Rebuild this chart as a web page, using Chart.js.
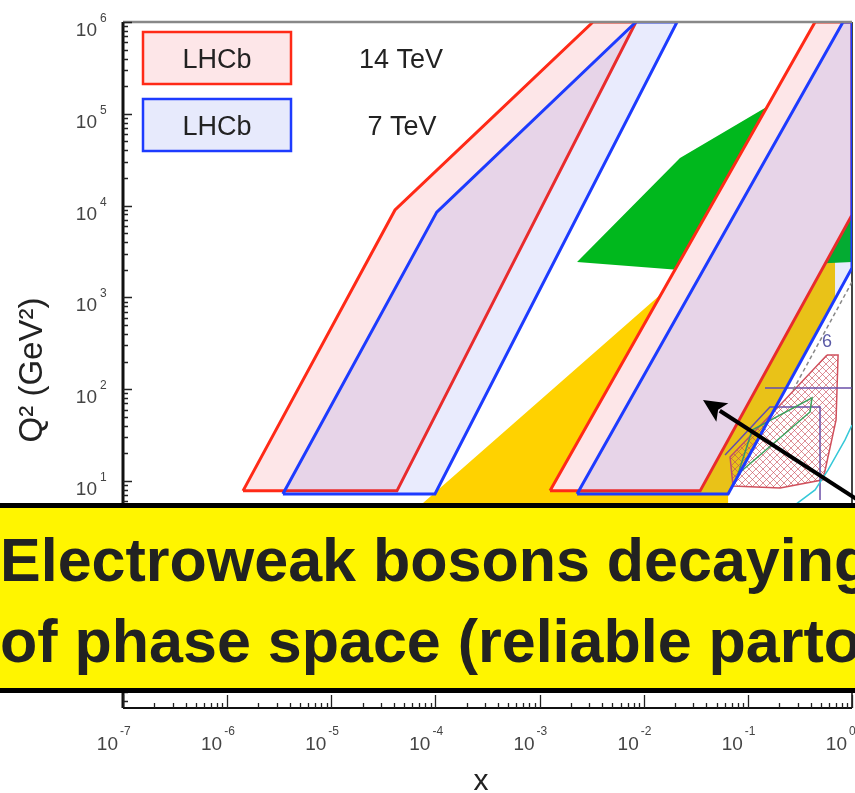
<!DOCTYPE html>
<html>
<head>
<meta charset="utf-8">
<script src="https://cdn.jsdelivr.net/npm/chart.js@4.4.1/dist/chart.umd.min.js"></script>
<style>
  html, body { margin: 0; padding: 0; background: #fff; overflow: hidden; }
  #wrap { position: relative; width: 855px; height: 793px; overflow: hidden; }
  #banner {
    position: absolute; left: -6px; top: 503px; width: 930px; height: 190px;
    box-sizing: border-box; background: #fff500; border: 5px solid #000;
    font: bold 61px "Liberation Sans", Arial, sans-serif; color: #222; white-space: nowrap;
  }
  #banner div { position: absolute; left: 1px; line-height: 61px; }
</style>
</head>
<body>
<div id="wrap">
  <canvas id="kinChart" width="855" height="793"></canvas>
  <div id="banner">
    <div style="top: 22px">Electroweak bosons decaying</div>
    <div style="top: 103px">of phase space (reliable parton</div>
  </div>
</div>
<script>
// x range and Q2 range of the plot
const xRange = [1e-7, 1];
const q2Range = [0.0336, 1e6];
const xDecades = [-7, -6, -5, -4, -3, -2, -1, 0];
const q2Decades = [-1, 0, 1, 2, 3, 4, 5, 6];

// LHCb acceptance, 14 TeV and 7 TeV (low-x and high-x bands)
const lhcb14LowX = [1.42e-6, 4.09e-5, 3.26e-3, 8.43e-3, 4.27e-5];
const lhcb14LowQ2 = [7.8, 8950, 1e6, 1e6, 7.8];
const lhcb7LowX = [3.43e-6, 1.03e-4, 8.43e-3, 2.09e-2, 9.9e-5];
const lhcb7LowQ2 = [7.2, 8500, 1e6, 1e6, 7.2];
const lhcb14HighX = [1.26e-3, 0.442, 1, 1, 0.0348];
const lhcb14HighQ2 = [7.8, 1e6, 1e6, 7900, 7.8];
const lhcb7HighX = [2.29e-3, 0.82, 1, 1, 0.0646];
const lhcb7HighQ2 = [7.2, 1e6, 1e6, 2090, 7.2];

// other regions
const yellowX = [6.37e-5, 0.0171, 0.687, 0.687, 0.0646, 0.0646];
const yellowQ2 = [4.83, 1265, 2685, 985, 7.21, 4.83];
const greenX = [2.29e-3, 0.0223, 0.163, 1, 1, 0.0223];
const greenQ2 = [2430, 33000, 1.25e5, 3.85e5, 2430, 1990];
const hatchX = [0.575, 0.735, 0.703, 0.527, 0.204, 0.072, 0.0675, 0.204];
const hatchQ2 = [236, 236, 46.1, 10.3, 8.39, 8.83, 18.2, 67.3];
const purpleX = [0.0604, 0.163, 0.493, 0.493];
const purpleQ2 = [19.2, 64, 64, 6.2];
const purpleLevelX = [0.146, 1];
const purpleLevelQ2 = [103, 103];
const greenEdgeX = [0.0805, 0.110, 0.413, 0.395];
const greenEdgeQ2 = [11.9, 35.9, 80.2, 56.4];
const cyanX = [1, 0.857, 0.589, 0.442, 0.284];
const cyanQ2 = [40.7, 28.0, 13.2, 7.98, 5.48];
const dashedX = [1, 0.272];
const dashedQ2 = [1472, 98];

// arrow (tail, tip) and the small region label
const arrowX = [1.49, 0.0371];
const arrowQ2 = [5.08, 76.3];
const labelX = [0.575];
const labelQ2 = [344];
const labelText = ['6'];

const RED = '#ff2a17';
const BLUE = '#1d3bff';
const PINK = '#fde6e8';
const LAVENDER = 'rgba(40, 60, 235, 0.1)';
const FONT = '"Liberation Sans", Arial, sans-serif';

function points(xs, ys, close) {
  const pts = xs.map((v, i) => ({ x: v, y: ys[i] }));
  if (close) pts.push({ x: xs[0], y: ys[0] });
  return pts;
}

function crossHatch() {
  const c = document.createElement('canvas');
  c.width = 7; c.height = 7;
  const g = c.getContext('2d');
  g.strokeStyle = 'rgba(200, 70, 80, 0.75)';
  g.lineWidth = 0.8;
  g.beginPath();
  g.moveTo(0, 0); g.lineTo(7, 7);
  g.moveTo(7, 0); g.lineTo(0, 7);
  g.stroke();
  return g.createPattern(c, 'repeat');
}

function region(xs, ys, fillColor, lineColor, width, order, extra) {
  return Object.assign({
    data: points(xs, ys, true),
    fill: fillColor ? 'shape' : false,
    backgroundColor: fillColor || 'transparent',
    borderColor: lineColor || 'transparent',
    borderWidth: width,
    order: order
  }, extra || {});
}

const decorations = {
  id: 'decorations',
  beforeDatasetsDraw(chart) {
    const { ctx, chartArea: a } = chart;
    ctx.save();
    ctx.strokeStyle = '#444';
    ctx.lineWidth = 2;
    ctx.beginPath();
    ctx.moveTo(a.right, a.top); ctx.lineTo(a.right, a.bottom);
    ctx.stroke();
    ctx.restore();
  },
  afterDraw(chart) {
    const { ctx, chartArea: a, scales: { x, y } } = chart;
    ctx.save();

    // frame
    ctx.strokeStyle = '#888';
    ctx.lineWidth = 2.5;
    ctx.beginPath(); ctx.moveTo(a.left, a.top); ctx.lineTo(a.right, a.top); ctx.stroke();
    ctx.strokeStyle = '#111';
    ctx.lineWidth = 2;
    ctx.beginPath(); ctx.moveTo(a.left, a.bottom); ctx.lineTo(a.right, a.bottom); ctx.stroke();
    ctx.lineWidth = 3;
    ctx.beginPath(); ctx.moveTo(a.left, a.top); ctx.lineTo(a.left, a.bottom); ctx.stroke();

    // inward log ticks
    ctx.strokeStyle = '#222';
    ctx.lineWidth = 1.3;
    ctx.beginPath();
    for (let e = -2; e <= 6; e++) {
      for (let m = 1; m <= 9; m++) {
        const v = m * Math.pow(10, e);
        if (v < y.min || v > y.max * 1.0001) continue;
        const py = Math.round(y.getPixelForValue(v)) + 0.5;
        ctx.moveTo(a.left, py); ctx.lineTo(a.left + (m === 1 ? 9 : 5), py);
      }
    }
    for (let e = -7; e <= 0; e++) {
      for (let m = 1; m <= 9; m++) {
        const v = m * Math.pow(10, e);
        if (v > x.max * 1.0001) continue;
        const px = Math.round(x.getPixelForValue(v)) + 0.5;
        ctx.moveTo(px, a.bottom); ctx.lineTo(px, a.bottom - (m === 1 ? 13 : 5));
      }
    }
    ctx.stroke();

    // tick labels 10^n
    ctx.fillStyle = '#444';
    ctx.textBaseline = 'alphabetic';
    q2Decades.forEach(e => {
      const py = y.getPixelForValue(Math.pow(10, e));
      ctx.font = '19px ' + FONT; ctx.textAlign = 'right';
      ctx.fillText('10', a.left - 26, py + 14);
      ctx.font = '12px ' + FONT; ctx.textAlign = 'left';
      ctx.fillText(String(e), a.left - 23, py);
    });
    xDecades.forEach(e => {
      const px = x.getPixelForValue(Math.pow(10, e));
      ctx.font = '19px ' + FONT; ctx.textAlign = 'right';
      ctx.fillText('10', px - 5, 750);
      ctx.font = '12px ' + FONT; ctx.textAlign = 'left';
      ctx.fillText(String(e), px - 3, 735);
    });

    // axis titles
    ctx.fillStyle = '#222';
    ctx.font = '30px ' + FONT;
    ctx.textAlign = 'center';
    ctx.fillText('x', 481, 790);
    ctx.save();
    ctx.translate(42, 370);
    ctx.rotate(-Math.PI / 2);
    ctx.font = '33px ' + FONT;
    ctx.fillText('Q\u00b2 (GeV\u00b2)', 0, 0);
    ctx.restore();

    // legend boxes
    ctx.lineWidth = 2.5;
    ctx.fillStyle = PINK; ctx.strokeStyle = RED;
    ctx.fillRect(143, 32, 148, 52); ctx.strokeRect(143, 32, 148, 52);
    ctx.fillStyle = '#e7eafc'; ctx.strokeStyle = BLUE;
    ctx.fillRect(143, 99, 148, 52); ctx.strokeRect(143, 99, 148, 52);
    ctx.fillStyle = '#222';
    ctx.font = '27px ' + FONT;
    ctx.textAlign = 'center';
    ctx.fillText('LHCb', 217, 68);
    ctx.fillText('LHCb', 217, 135);
    ctx.fillText('14 TeV', 401, 68);
    ctx.fillText('7 TeV', 402, 135);

    // region label
    ctx.fillStyle = '#5a5aa6';
    ctx.font = '18px ' + FONT;
    labelText.forEach((t, i) => {
      ctx.fillText(t, x.getPixelForValue(labelX[i]), y.getPixelForValue(labelQ2[i]) + 7);
    });

    // arrow
    const sx = x.getPixelForValue(arrowX[0]), sy = y.getPixelForValue(arrowQ2[0]);
    const tx = x.getPixelForValue(arrowX[1]), ty = y.getPixelForValue(arrowQ2[1]);
    const ang = Math.atan2(ty - sy, tx - sx);
    const len = 23, half = 11;
    const bx = tx - len * Math.cos(ang), by = ty - len * Math.sin(ang);
    ctx.strokeStyle = '#000';
    ctx.fillStyle = '#000';
    ctx.lineWidth = 4;
    ctx.beginPath();
    ctx.moveTo(sx, sy);
    ctx.lineTo(bx + 3 * Math.cos(ang), by + 3 * Math.sin(ang));
    ctx.stroke();
    ctx.beginPath();
    ctx.moveTo(tx, ty);
    ctx.lineTo(bx - half * Math.sin(ang), by + half * Math.cos(ang));
    ctx.lineTo(bx + 5 * Math.cos(ang), by + 5 * Math.sin(ang));
    ctx.lineTo(bx + half * Math.sin(ang), by - half * Math.cos(ang));
    ctx.closePath();
    ctx.fill();

    ctx.restore();
  }
};

const ctx = document.getElementById('kinChart').getContext('2d');
const kinChart = new Chart(ctx, {
  type: 'line',
  data: {
    datasets: [
      region(yellowX, yellowQ2, '#ffd200', null, 0, 20),
      region(greenX, greenQ2, '#00b81d', null, 0, 19),
      region(hatchX, hatchQ2, crossHatch(), '#d0505c', 1.5, 18),
      { data: points(purpleX, purpleQ2, false), borderColor: '#6a4fa8', borderWidth: 1.5, fill: false, order: 17 },
      { data: points(purpleLevelX, purpleLevelQ2, false), borderColor: '#6a4fa8', borderWidth: 1.5, fill: false, order: 17 },
      region(greenEdgeX, greenEdgeQ2, null, '#3aa05a', 1.5, 16),
      { data: points(cyanX, cyanQ2, false), borderColor: '#35c8d8', borderWidth: 1.5, fill: false, order: 15 },
      { data: points(dashedX, dashedQ2, false), borderColor: '#888', borderWidth: 1.5, borderDash: [4, 3], fill: false, order: 14 },
      region(lhcb14LowX, lhcb14LowQ2, PINK, RED, 3, 6),
      region(lhcb14HighX, lhcb14HighQ2, PINK, RED, 3, 5),
      region(lhcb7LowX, lhcb7LowQ2, LAVENDER, BLUE, 3, 4),
      region(lhcb7HighX, lhcb7HighQ2, LAVENDER, BLUE, 3, 3)
    ]
  },
  options: {
    responsive: false,
    animation: false,
    events: [],
    layout: { padding: { left: 123, top: 22, right: 3, bottom: 85 } },
    elements: { point: { radius: 0 }, line: { tension: 0, borderJoinStyle: 'miter' } },
    plugins: { legend: { display: false }, tooltip: { enabled: false } },
    scales: {
      x: { type: 'logarithmic', min: xRange[0], max: xRange[1], display: false },
      y: { type: 'logarithmic', min: q2Range[0], max: q2Range[1], display: false }
    }
  },
  plugins: [decorations]
});
</script>
</body>
</html>
